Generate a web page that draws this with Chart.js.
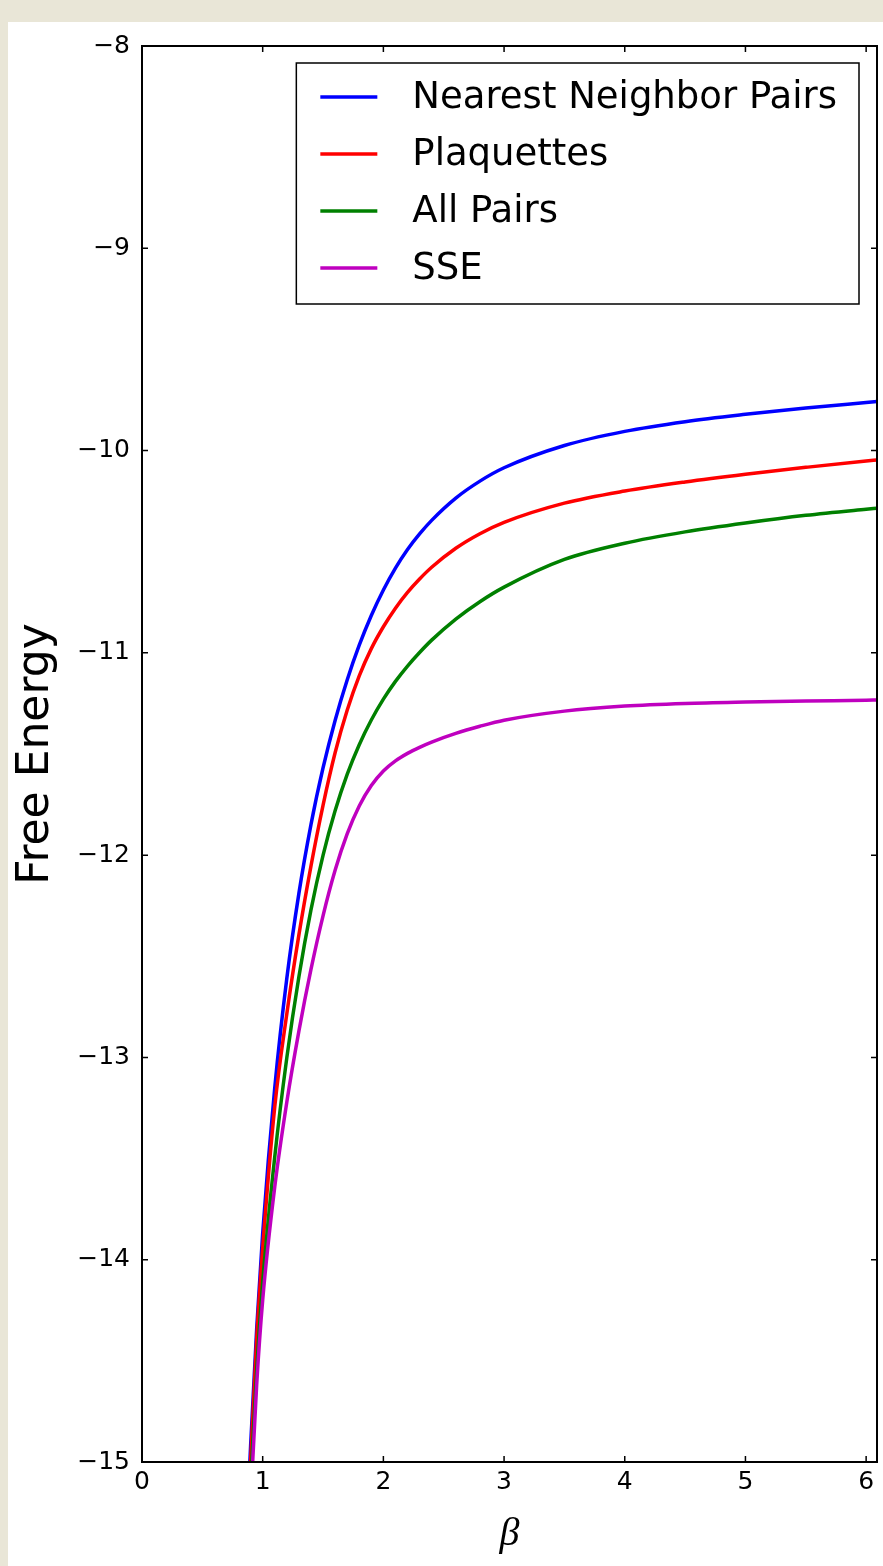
<!DOCTYPE html>
<html><head><meta charset="utf-8">
<script src="https://cdn.jsdelivr.net/npm/chart.js@4.4.0/dist/chart.umd.min.js"></script>
<style>
html,body{margin:0;padding:0;width:883px;height:1566px;overflow:hidden;background:#e9e6d7;}
#panel{position:absolute;left:8px;top:22px;width:875px;height:1544px;background:#ffffff;}
#wrap{position:absolute;left:0;top:0;width:883px;height:1566px;}
</style></head><body>
<div id="panel"></div>
<div id="wrap"><canvas id="c" width="883" height="1566"></canvas></div>
<script>
// ---- data ----
const beta = [0.88, 0.9, 0.95, 1.0, 1.1, 1.2, 1.3, 1.4, 1.5, 1.6, 1.7, 1.8, 1.9, 2.0, 2.1, 2.2, 2.3, 2.4, 2.6, 2.8, 3.0, 3.5, 4.0, 4.5, 5.0, 5.5, 6.0, 6.09];
const nearestNeighborPairs = [-15.178, -14.919, -14.344, -13.869, -13.149, -12.609, -12.189, -11.849, -11.569, -11.334, -11.134, -10.962, -10.815, -10.689, -10.581, -10.489, -10.412, -10.345, -10.235, -10.151, -10.085, -9.975, -9.905, -9.857, -9.821, -9.790, -9.762, -9.757];
const plaquettes = [-15.25, -14.994, -14.394, -13.944, -13.244, -12.784, -12.394, -12.054, -11.754, -11.494, -11.284, -11.114, -10.979, -10.871, -10.779, -10.701, -10.635, -10.577, -10.483, -10.411, -10.355, -10.260, -10.200, -10.155, -10.117, -10.083, -10.051, -10.046];
const allPairs = [-15.36, -15.101, -14.551, -14.111, -13.491, -13.001, -12.601, -12.271, -12.001, -11.781, -11.601, -11.454, -11.332, -11.229, -11.141, -11.065, -10.998, -10.937, -10.833, -10.747, -10.675, -10.538, -10.458, -10.402, -10.358, -10.320, -10.290, -10.285];
const sse = [-15.45, -15.2, -14.62, -14.2, -13.64, -13.22, -12.87, -12.565, -12.3, -12.075, -11.895, -11.757, -11.656, -11.584, -11.534, -11.497, -11.467, -11.441, -11.398, -11.363, -11.333, -11.288, -11.263, -11.25, -11.243, -11.238, -11.234, -11.233];
const seriesLabels = ['Nearest Neighbor Pairs', 'Plaquettes', 'All Pairs', 'SSE'];
const xTicks = [0, 1, 2, 3, 4, 5, 6];
const yTicks = [-15, -14, -13, -12, -11, -10, -9, -8];

const seriesValues = [nearestNeighborPairs, plaquettes, allPairs, sse];
const colors = ['#0000ff', '#ff0000', '#008000', '#bf00bf'];

const frameAndTicks = {
  id: 'frameAndTicks',
  afterDatasetsDraw(chart) {
    const {ctx, chartArea: a, scales} = chart;
    ctx.save();
    ctx.strokeStyle = '#000';
    ctx.lineWidth = 1.5;
    const L = 6;
    ctx.beginPath();
    xTicks.forEach(v => {
      const px = scales.x.getPixelForValue(v);
      ctx.moveTo(px, a.bottom); ctx.lineTo(px, a.bottom - L);
      ctx.moveTo(px, a.top); ctx.lineTo(px, a.top + L);
    });
    yTicks.forEach(v => {
      const py = scales.y.getPixelForValue(v);
      ctx.moveTo(a.left, py); ctx.lineTo(a.left + L, py);
      ctx.moveTo(a.right, py); ctx.lineTo(a.right - L, py);
    });
    ctx.stroke();
    ctx.lineWidth = 2;
    ctx.strokeRect(a.left, a.top, a.right - a.left, a.bottom - a.top);
    ctx.restore();
  }
};

const boxLegend = {
  id: 'boxLegend',
  afterDraw(chart, args, o) {
    const {ctx, chartArea: a} = chart;
    const ds = chart.data.datasets;
    ctx.save();
    ctx.font = o.fontSize + 'px "DejaVu Sans"';
    const maxW = Math.max(...ds.map(d => ctx.measureText(d.label).width));
    const right = a.right - o.marginRight;
    const top = a.top + o.marginTop;
    const left = right - (o.padLeft + o.handleLen + o.handleGap + maxW + o.padRight);
    const bottom = top + o.padTop + (ds.length - 1) * o.rowGap + o.padBottom;
    ctx.fillStyle = '#fff';
    ctx.fillRect(left, top, right - left, bottom - top);
    ctx.strokeStyle = '#000';
    ctx.lineWidth = 1.5;
    ctx.strokeRect(left, top, right - left, bottom - top);
    ds.forEach((d, i) => {
      const y = top + o.padTop + i * o.rowGap;
      ctx.strokeStyle = d.borderColor;
      ctx.lineWidth = 3.5;
      ctx.beginPath();
      ctx.moveTo(left + o.padLeft, y);
      ctx.lineTo(left + o.padLeft + o.handleLen, y);
      ctx.stroke();
      ctx.fillStyle = '#000';
      ctx.textBaseline = 'middle';
      ctx.textAlign = 'left';
      ctx.fillText(d.label, left + o.padLeft + o.handleLen + o.handleGap, y + 1);
    });
    ctx.restore();
  }
};

const datasets = seriesLabels.map((lab, i) => ({
  label: lab,
  data: beta.map((b, j) => ({x: b, y: seriesValues[i][j]})),
  borderColor: colors[i],
  backgroundColor: colors[i],
  borderWidth: 3.5,
  pointRadius: 0,
  fill: false,
  cubicInterpolationMode: 'monotone',
  order: seriesLabels.length - i
}));

new Chart(document.getElementById('c'), {
  type: 'line',
  data: {datasets},
  plugins: [frameAndTicks, boxLegend],
  options: {
    responsive: false,
    animation: false,
    devicePixelRatio: 1,
    layout: {padding: {left: 0, top: 46, right: 6, bottom: 0}},
    plugins: {
      legend: {display: false},
      tooltip: {enabled: false},
      boxLegend: {fontSize: 37, marginRight: 18, marginTop: 17, padLeft: 24, handleLen: 57, handleGap: 35, padRight: 22, padTop: 34, rowGap: 57, padBottom: 36}
    },
    scales: {
      x: {
        type: 'linear', position: 'bottom', min: 0, max: 6.09,
        afterBuildTicks: s => { s.ticks = xTicks.map(v => ({value: v})); },
        afterFit: s => { s.height = 104; },
        grid: {display: false, drawTicks: false},
        border: {display: false},
        ticks: {color: '#000', font: {family: 'DejaVu Sans', size: 25}, padding: 5, maxRotation: 0, autoSkip: false,
          callback: v => String(v)},
        title: {display: true, text: 'β', color: '#000', font: {family: 'Liberation Serif', style: 'italic', size: 40}, padding: {top: 0, bottom: 8}}
      },
      y: {
        type: 'linear', position: 'left', min: -15, max: -8,
        afterBuildTicks: s => { s.ticks = yTicks.map(v => ({value: v})); },
        afterFit: s => { s.width = 142; },
        grid: {display: false, drawTicks: false},
        border: {display: false},
        ticks: {color: '#000', font: {family: 'DejaVu Sans', size: 25}, padding: 12, autoSkip: false,
          callback: v => (v < 0 ? '\u2212' + Math.abs(v) : String(v))},
        title: {display: true, text: 'Free Energy', color: '#000', font: {family: 'DejaVu Sans', size: 44}, padding: {top: 10, bottom: 0}}
      }
    }
  }
});
</script>
</body></html>
